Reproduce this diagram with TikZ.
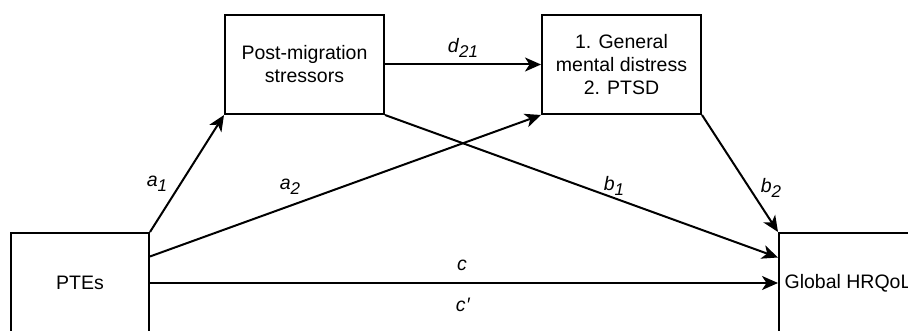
\documentclass[tikz,border=0pt]{standalone}
\usepackage{fontspec}
\setmainfont{Liberation Sans}
\usetikzlibrary{arrows.meta,calc}
\newcommand{\lbl}[2]{\textit{#1}\raisebox{-0.28em}{\fontsize{17}{17}\selectfont\textit{#2}}}
\tikzset{
  box/.style={draw, line width=2pt, minimum width=159pt, minimum height=99pt, align=center, inner sep=0pt, font=\fontsize{19.5}{23}\selectfont},
  conn/.style={line width=2pt, -{Stealth[length=16pt, width=14pt, inset=4.5pt]}},
  elab/.style={font=\fontsize{19.5}{23}\selectfont, inner sep=0pt}
}
\begin{document}
\begin{tikzpicture}[x=1pt,y=-1pt]
\useasboundingbox (0,0) rectangle (908,331);
\clip (0,0) rectangle (908,331);
\node[box, minimum width=138pt, minimum height=100pt] (ptes) at (80,283) {PTEs};
\node[box] (post) at (304.5,64.5) {Post-migration\\stressors};
\node[box] (gen) at (621.5,64.5) {1. General\\mental distress\\2. PTSD};
\node[box, minimum width=138pt, minimum height=100pt] (hrq) at (848,283) {Global HRQoL};
\coordinate (a2s) at ($(ptes.north east)!0.24!(ptes.south east)$);
\coordinate (b1e) at ($(hrq.north west)!0.25!(hrq.south west)$);
\draw[conn] (ptes.north east) -- (post.south west);
\draw[conn] (a2s) -- (gen.south west);
\draw[conn] (ptes.east) -- (hrq.west);
\draw[conn] (post.east) -- (gen.west);
\draw[conn] (post.south east) -- (b1e);
\draw[conn] (gen.south east) -- (hrq.north west);
\node[elab] (la1) at (157,184) {\lbl{a}{1}};
\node[elab] (la2) at (290,187) {\lbl{a}{2}};
\node[elab] (ld) at (463,48) {\lbl{d}{21}};
\node[elab] (lb1) at (614,186) {\lbl{b}{1}};
\node[elab] (lb2) at (771,188) {\lbl{b}{2}};
\node[elab] (lc) at (462,265) {\textit{c}};
\node[elab] (lcp) at (463,305) {\textit{c\kern0.5pt\char"2032}};
\end{tikzpicture}
\end{document}
